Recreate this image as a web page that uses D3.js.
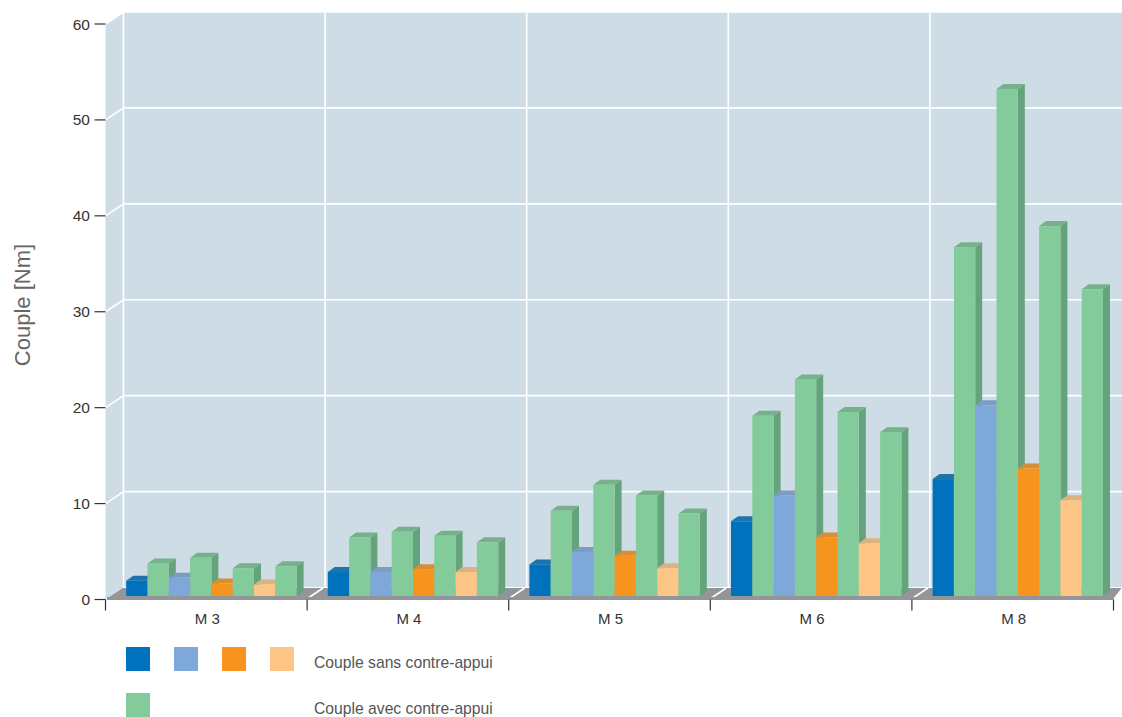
<!DOCTYPE html>
<html><head><meta charset="utf-8">
<style>html,body{margin:0;padding:0;background:#fff}svg{display:block}text{font-family:"Liberation Sans",Arial,sans-serif}</style>
<script src="https://cdn.jsdelivr.net/npm/d3@7"></script></head><body>
<script>
const categories=["M 3","M 4","M 5","M 6","M 8"];
const seriesNames=["s1","a1","s2","a2","s3","a3","s4","a4"];
const seriesColors=["#0071bc","#84cb9b","#7ea7da","#84cb9b","#f7941d","#84cb9b","#fdc586","#84cb9b"];
const seriesValues=[
 [1.6,3.4,1.9,4.0,1.3,2.9,1.2,3.1],
 [2.5,6.1,2.5,6.7,2.8,6.3,2.5,5.6],
 [3.3,8.9,4.6,11.6,4.2,10.5,2.9,8.6],
 [7.8,18.8,10.5,22.6,6.1,19.2,5.5,17.1],
 [12.2,36.4,19.9,52.9,13.3,38.6,10.0,32.0]];
const yTicks=[0,10,20,30,40,50,60];
const legendSans=["#0071bc","#7ea7da","#f7941d","#fdc586"];
const legendAvec=["#84cb9b"];
const legendLabels=["Couple sans contre-appui","Couple avec contre-appui"];

const W=1122,H=717;
const svg=d3.select("body").append("svg").attr("width",W).attr("height",H);
const x=d3.scaleBand().domain(categories).range([105.5,1113.5]);
const y=d3.scaleLinear().domain([0,60]).range([599.5,24]);
const yBar=d3.scaleLinear().domain([0,60]).range([596,21]);
const dx=18,dy=-12,bdx=7,bdy=-5;

// walls
const y0=y(0),y60=y(60),xL=x.range()[0],xR=x.range()[1];
svg.append("path").attr("d",`M${xL},${y60}L${xL+dx},${y60+dy}L${W},${y60+dy}L${W},${y0+dy}L${xL+dx},${y0+dy}L${xL},${y0}Z`).attr("fill","#cedde5");
// gridlines
const g=svg.append("g").attr("stroke","#fff").attr("stroke-width",1.6).attr("fill","none");
yTicks.forEach(t=>{ if(t===0) return;
  g.append("path").attr("d",`M${xL},${y(t)}L${xL+dx},${y(t)+dy}L${W},${y(t)+dy}`);
});
x.domain().forEach(c=>{
  const xx=x(c)+dx;
  g.append("line").attr("x1",xx).attr("x2",xx).attr("y1",y60+dy).attr("y2",y0+dy);
});
// floor
svg.append("path").attr("d",`M${xL+1.5},${y0-1}L${xL+dx},${y0+dy}L${W},${y0+dy}L${xR},${y0-1}Z`).attr("fill","#939598");
svg.append("path").attr("d",`M${xL+dx},${y0+dy}L${W},${y0+dy}`).attr("stroke","#fff").attr("stroke-width",1.2);
// separators on the floor
x.domain().slice(1).forEach(c=>{
  svg.append("path").attr("d",`M${x(c)+1},${y0-1.5}L${x(c)+dx-2},${y0+dy+0.5}`).attr("stroke","#fff").attr("stroke-width",1.6);
});
svg.append("path").attr("d",`M${xL+1.5},${y0-1}H${xR}`).attr("stroke","#939598").attr("stroke-width",3);

// bars
const barW=21.3,barOff=20.7;
categories.forEach((c,i)=>{
  const gg=svg.append("g");
  seriesValues[i].forEach((v,j)=>{
    const bx=x(c)+barOff+j*barW, top=yBar(v), base=yBar(0), col=d3.color(seriesColors[j]);
    const dark=col.darker(0.55).formatHex();
    const mid=d3.interpolateRgb(seriesColors[j],"#7a7a7a")(0.25);
    const b=gg.append("g");
    b.append("path").attr("d",`M${bx+barW},${top}L${bx+barW+bdx},${top+bdy}V${base+bdy}L${bx+barW},${base}Z`).attr("fill",j%2?"#65a37c":dark);
    b.append("path").attr("d",`M${bx},${top}L${bx+bdx},${top+bdy}H${bx+barW+bdx}L${bx+barW},${top}Z`).attr("fill",j%2?"#76b08c":mid);
    b.append("rect").attr("x",bx).attr("y",top).attr("width",barW).attr("height",base-top).attr("fill",seriesColors[j]);
  });
});

// axes
const ax=svg.append("g").attr("stroke","#333").attr("stroke-width",1.2).attr("fill","none");
yTicks.forEach(t=>{ax.append("line").attr("x1",xL-11).attr("x2",xL).attr("y1",y(t)).attr("y2",y(t));});
x.domain().concat(["end"]).forEach((c,i)=>{
  const xx=i<categories.length?x(c):xR;
  ax.append("line").attr("x1",xx).attr("x2",xx).attr("y1",y0).attr("y2",y0+11);
});
svg.append("g").selectAll("text").data(yTicks).join("text").attr("x",90).attr("y",d=>y(d)+5.5).attr("text-anchor","end").attr("font-size",15.5).attr("fill","#333").text(d=>d);
svg.append("g").selectAll("text").data(categories).join("text").attr("x",d=>x(d)+x.bandwidth()/2+1).attr("y",624).attr("text-anchor","middle").attr("font-size",15).attr("fill","#333").text(d=>d);
svg.append("text").attr("transform","translate(30,305) rotate(-90)").attr("text-anchor","middle").attr("font-size",22).attr("fill","#666").text("Couple [Nm]");

// legend
legendSans.forEach((c,i)=>svg.append("rect").attr("x",126+i*48).attr("y",647).attr("width",24).attr("height",24).attr("fill",c));
legendAvec.forEach((c,i)=>svg.append("rect").attr("x",126+i*48).attr("y",693).attr("width",24).attr("height",24).attr("fill",c));
legendLabels.forEach((t,i)=>svg.append("text").attr("x",314).attr("y",668+i*46).attr("font-size",15.7).attr("fill","#555").text(t));
</script></body></html>
